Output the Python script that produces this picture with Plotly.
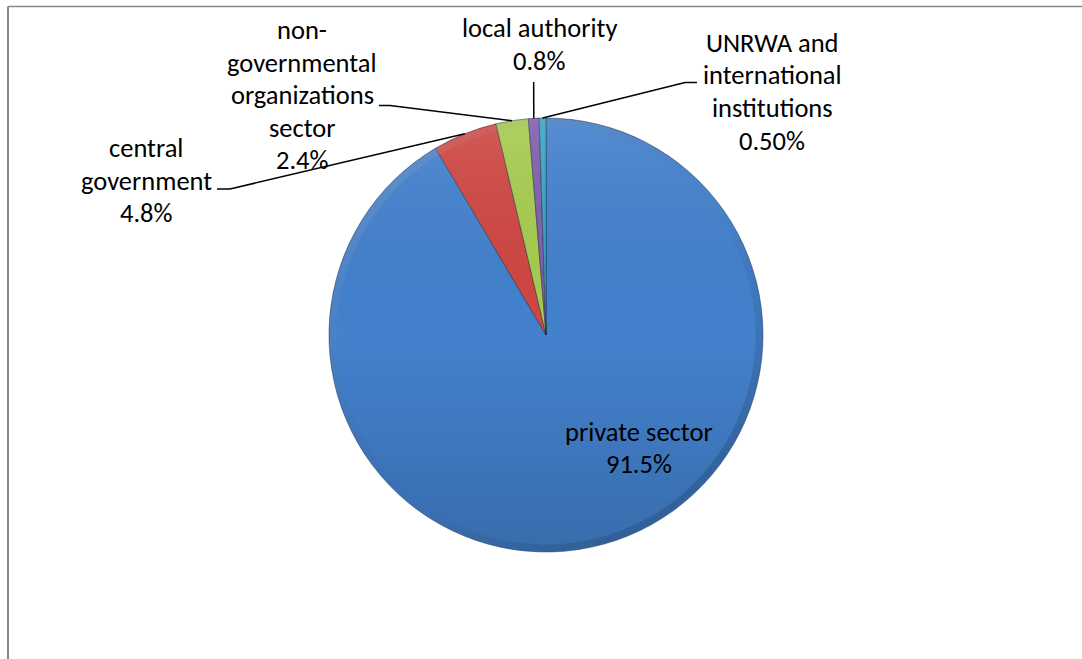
import base64
import math
import plotly.graph_objects as go

# Employment shares by sector
sectors = [
    "private sector",
    "central government",
    "non-governmental organizations sector",
    "local authority",
    "UNRWA and international institutions",
]
shares = [91.5, 4.8, 2.4, 0.8, 0.5]
share_labels = ["91.5%", "4.8%", "2.4%", "0.8%", "0.50%"]
label_lines = [
    ["private sector"],
    ["central", "government"],
    ["non-", "governmental", "organizations", "sector"],
    ["local authority"],
    ["UNRWA and", "international", "institutions"],
]
colors = ["#4381CD", "#CF4742", "#A6CC4F", "#7F5FAE", "#3AA6C6"]

W, H = 1082, 659
CX, CY, R = 546, 335, 217  # pie centre and radius in pixels
LINE_GAP = 32.5             # vertical distance between label lines

# centre x and first-line y of each label block (pixels)
label_pos = [(639, 431.5), (146, 148), (302, 30), (539, 28), (772, 43)]
# leader-line stub next to each outside label (pixels)
elbows = [None, ((217, 189), (230, 189)), ((379, 105.5), (390, 105.5)),
          ((533.7, 82), (533.7, 82)), ((697, 82.5), (685, 82.5))]

FONT = dict(family="Carlito, Calibri, Lato, sans-serif", size=26.5, color="#000000")


def px(x):
    return x / W


def py(y):
    return 1 - y / H


fig = go.Figure()
fig.add_trace(go.Pie(
    labels=sectors,
    values=shares,
    sort=False,
    direction="clockwise",
    rotation=0,
    marker=dict(colors=colors, line=dict(color="rgba(20,30,60,0.45)", width=1)),
    textinfo="none",
    hoverinfo="label+percent",
    showlegend=False,
    domain=dict(x=[px(CX - R), px(CX + R)], y=[py(CY + R), py(CY - R)]),
))

# soft top-to-bottom shading and bevelled rim laid over the pie
shade_svg = f"""<svg xmlns='http://www.w3.org/2000/svg' width='{2*R}' height='{2*R}' viewBox='0 0 {2*R} {2*R}'>
<defs>
<linearGradient id='g' x1='0' y1='0' x2='0' y2='1'>
<stop offset='0' stop-color='#ffffff' stop-opacity='0.10'/>
<stop offset='0.5' stop-color='#000000' stop-opacity='0.0'/>
<stop offset='1' stop-color='#000000' stop-opacity='0.16'/>
</linearGradient>
<linearGradient id='rim' x1='0' y1='0' x2='1' y2='1'>
<stop offset='0' stop-color='#ffffff' stop-opacity='0.18'/>
<stop offset='0.55' stop-color='#000000' stop-opacity='0.0'/>
<stop offset='1' stop-color='#000000' stop-opacity='0.22'/>
</linearGradient>
</defs>
<circle cx='{R}' cy='{R}' r='{R-0.5}' fill='url(#g)'/>
<circle cx='{R}' cy='{R}' r='{R-4}' fill='none' stroke='url(#rim)' stroke-width='7'/>
</svg>"""
fig.add_layout_image(dict(
    source="data:image/svg+xml;base64," + base64.b64encode(shade_svg.encode()).decode(),
    xref="paper", yref="paper", x=px(CX - R), y=py(CY - R),
    sizex=2 * R / W, sizey=2 * R / H, xanchor="left", yanchor="top",
    sizing="stretch", layer="above",
))

shapes = []
annotations = []
total = sum(shares)
cum = 0.0
for i, v in enumerate(shares):
    mid = (cum + v / 2) / total * 2 * math.pi
    cum += v
    lx, ly = label_pos[i]
    for k, line in enumerate(label_lines[i] + [share_labels[i]]):
        annotations.append(dict(
            x=px(lx), y=py(ly + k * LINE_GAP), xref="paper", yref="paper",
            text=line, showarrow=False, xanchor="center", yanchor="middle",
            font=FONT,
        ))
    if elbows[i] is None:
        continue
    # leader line from the slice's outer edge to the label
    sx = CX + R * math.sin(mid)
    sy = CY - R * math.cos(mid)
    (ax, ay), (bx, by) = elbows[i]
    shapes.append(dict(
        type="path", xref="paper", yref="paper",
        path=f"M {px(ax)},{py(ay)} L {px(bx)},{py(by)} L {px(sx)},{py(sy)}",
        line=dict(color="#000000", width=1.5),
    ))

# chart-area frame (left and top edges)
shapes.append(dict(type="line", xref="paper", yref="paper",
                   x0=px(8), y0=py(6.5), x1=1, y1=py(6.5),
                   line=dict(color="#878787", width=1.5)))
shapes.append(dict(type="line", xref="paper", yref="paper",
                   x0=px(8), y0=py(6.5), x1=px(8), y1=0,
                   line=dict(color="#878787", width=2)))

fig.update_layout(
    width=W, height=H,
    margin=dict(l=0, r=0, t=0, b=0),
    paper_bgcolor="white",
    plot_bgcolor="white",
    shapes=shapes,
    annotations=annotations,
)

fig.write_html("out.html")
